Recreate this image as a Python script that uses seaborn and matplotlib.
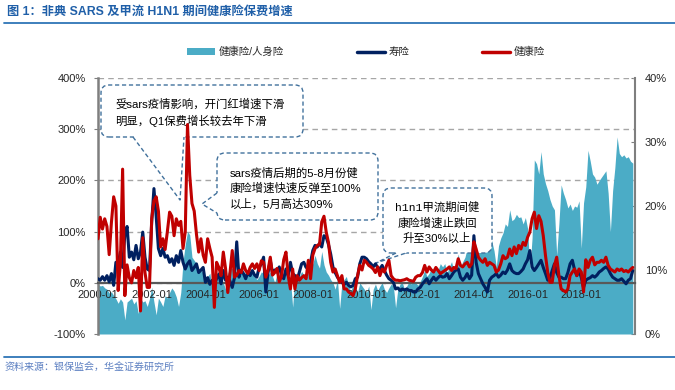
import numpy as np
import pandas as pd
import matplotlib.pyplot as plt
import seaborn as sns
from matplotlib.patches import FancyBboxPatch, Polygon, Patch
from matplotlib.lines import Line2D

# ---- data (monthly growth) ----
months = pd.date_range("2000-01-01", periods=240, freq="MS").strftime("%Y-%m").tolist()
tick_labels = ["2000-01", "2002-01", "2004-01", "2006-01", "2008-01",
               "2010-01", "2012-01", "2014-01", "2016-01", "2018-01"]

# 健康险 premium growth, %
health_growth = [
    86, 128, 105, 125, 110, 55, 118, 168, 150, -15, 37, 222,       # 2000
    -25, 35, 10, 0, 24, 10, 30, -55, 88, 20, -9, -9,               # 2001
    125, 160, 168, 140, 70, 86, 65, 100, 138, 130, 92, 125,        # 2002
    112, 120, 67, 100, 309, 210, 155, 140, 95, 60, 86, 54,         # 2003
    40, 86, 67, 50, -48, 40, 30, 14, 60, 28, -19, 20,              # 2004
    63, 11, 15, 24, 20, 37, 24, 18, 30, 37, 28, 37,                # 2005
    24, 43, 40, 11, 25, 50, 15, 20, 28, 2, 12, 45,                 # 2006
    60, 14, -12, 27, -12, 14, 5, 10, 14, 8, 44, 8,                 # 2007
    54, 67, 73, 75, 119, 130, 99, 79, 40, 21, 27, 14,              # 2008
    1, 14, -12, -12, -18, -21, -25, -12, 14, 34, 25, 44,           # 2009
    40, 34, 31, 27, 20, 31, 14, 27, 21, 34, 44, 14,                # 2010
    8, 5, 5, 4, 5, 6, 8, 5, 4, 3, 11, 14,                          # 2011
    14, 20, 34, 21, 31, 25, 21, 30, 24, 18, 21, 24,                # 2012
    27, 31, 24, 30, 28, 47, 34, 31, 37, 40, 31, 37,                # 2013
    80, 66, 50, 44, 40, 47, 34, 40, 37, 34, 21, 25,                # 2014
    37, 53, 47, 50, 66, 53, 70, 57, 73, 66, 79, 73,                # 2015
    89, 99, 125, 138, 106, 131, 120, 92, 53, 20, 1, 1,             # 2016
    34, 50, 14, -12, -15, -18, -12, 14, 21, 27, 14, 27,            # 2017
    21, -18, 45, 30, 44, 50, 35, 40, 40, 44, 40, 50,               # 2018
    34, 27, 24, 21, 27, 24, 27, 22, 24, 21, 26, 30,                # 2019
]

# 寿险 premium growth, %
life_growth = [
    8, 5, 12, 5, 14, 2, 18, -5, 40, 37, 60, 30,                    # 2000
    95, 110, 50, 60, 45, 73, 47, 60, 99, 50, 27, 24,               # 2001
    119, 184, 130, 67, 53, 67, 50, 53, 40, 47, 34, 53,             # 2002
    40, 63, 40, 27, 37, 43, 24, 30, 37, 20, 25, 30,                # 2003
    1, 10, -3, 5, -3, 8, 17, -2, 24, 5, 11, 3,                     # 2004
    -9, 10, 80, 11, 25, 18, 8, 20, 14, 24, 15, 11,                 # 2005
    30, 37, 50, -18, 20, 44, 18, 25, 21, 31, 15, 8,                # 2006
    27, 14, 40, 18, 14, 5, 21, 37, 40, 30, 31, 40,                 # 2007
    63, 73, 70, 77, 70, 92, 89, 75, 56, 31, 20, 11,                # 2008
    5, 1, -3, 1, -5, -8, -5, 8, 11, 37, 50, 50,                    # 2009
    47, 41, 37, 31, 37, 30, 27, 34, 24, 15, 8, 5,                  # 2010
    1, -12, -10, -15, -12, -14, -12, -15, -15, -18, -18, -12,      # 2011
    -9, -2, 3, 8, -2, 5, 11, 5, 10, 14, 11, 12,                    # 2012
    18, 8, 14, 21, 25, 27, 11, 5, 10, 18, 8, 15,                   # 2013
    92, 40, 18, 8, -2, -9, -18, 5, 11, 14, 18, 11,                 # 2014
    15, 21, 18, 25, 37, 24, 20, 18, 18, 22, 27, 37,                # 2015
    45, 63, 31, 24, 30, 37, 44, 30, 18, 5, 10, 24,                 # 2016
    37, 20, 11, 11, 8, 8, 20, 37, 44, 25, 14, 24,                  # 2017
    10, -9, 5, 8, 10, 14, 11, 15, 21, 24, 28, 31,                  # 2018
    27, 18, 11, 8, 5, 5, 8, 3, -2, 5, 8, 24,                       # 2019
]

# 健康险/人身险 share, % (right axis)
health_share = [
    7.8, 7.5, 7.6, 7.2, 7.0, 6.4, 6.6, 6.0, 5.5, 4.8, 5.5, 5.0,            # 2000
    2.2, 5.0, 5.3, 5.6, 4.7, 5.2, 3.2, 5.6, 5.0, 5.2, 4.3, 5.5,            # 2001
    7.3, 5.0, 3.0, 5.6, 5.0, 4.3, 6.0, 5.6, 6.5, 7.2, 6.7, 5.8,            # 2002
    4.3, 6.5, 11.3, 14.0, 16.0, 15.5, 12.0, 11.5, 11.0, 9.7, 10.0, 9.5,    # 2003
    8.7, 9.0, 9.5, 7.2, 5.6, 9.0, 10.0, 9.0, 8.0, 7.0, 9.5, 10.3,          # 2004
    10.3, 9.5, 9.8, 9.3, 10.0, 9.7, 9.5, 10.3, 10.0, 9.6, 9.0, 8.5,        # 2005
    9.0, 9.7, 9.5, 8.7, 9.2, 9.7, 9.0, 8.0, 9.5, 9.3, 9.0, 9.6,            # 2006
    9.7, 9.2, 8.5, 4.2, 9.0, 9.5, 9.0, 9.8, 9.2, 8.8, 9.7, 10.3,           # 2007
    11.0, 12.3, 11.0, 10.3, 12.9, 10.8, 9.7, 9.2, 8.5, 8.0, 7.0, 8.5,      # 2008
    4.0, 8.0, 8.5, 9.0, 7.5, 6.6, 8.0, 7.5, 6.5, 8.0, 7.5, 7.0,            # 2009
    6.5, 7.5, 3.8, 7.0, 7.8, 6.8, 7.5, 8.0, 7.0, 6.5, 7.2, 7.8,            # 2010
    7.5, 4.1, 7.0, 7.8, 8.0, 7.0, 7.5, 8.2, 7.8, 8.5, 8.0, 7.6,            # 2011
    8.2, 9.0, 10.0, 9.0, 9.5, 10.2, 9.8, 10.5, 10.0, 11.0, 10.5, 11.0,     # 2012
    9.5, 10.5, 11.3, 10.0, 11.0, 12.5, 10.5, 11.3, 12.0, 13.4, 14.5, 12.5, # 2013
    16.0, 15.0, 14.5, 13.0, 14.0, 16.0, 17.0, 15.5, 14.5, 13.0, 10.5, 13.8,  # 2014
    15.0, 15.8, 17.2, 16.8, 19.4, 17.7, 18.0, 18.7, 18.2, 18.3, 17.2, 18.2,  # 2015
    16.5, 10.0, 15.0, 27.2, 26.6, 25.0, 28.5, 25.0, 23.5, 22.4, 21.0, 20.0,  # 2016
    19.4, 12.3, 17.3, 23.3, 22.0, 21.0, 19.7, 20.3, 19.3, 20.0, 19.8, 20.8,  # 2017
    13.4, 20.5, 23.0, 28.7, 27.0, 25.0, 24.5, 23.4, 24.0, 24.5, 25.0, 25.5,  # 2018
    22.0, 16.0, 22.4, 26.0, 30.8, 28.2, 27.7, 28.0, 27.5, 27.7, 27.0, 26.7,  # 2019
]

AQUA = "#4BACC6"
NAVY = "#002060"
RED = "#C00000"
EDGE = "#41719C"

sns.set_style("white")
plt.rcParams["font.family"] = ["Liberation Sans", "Noto Sans CJK SC"]

idx = np.arange(len(months))

fig = plt.figure(figsize=(6.75, 3.9), dpi=100)
T = fig.dpi_scale_trans


def P(x, y):
    # pixel (from top-left) -> inches
    return (x / 100, (390 - y) / 100)


ax = fig.add_axes([98 / 675, 1 - 334 / 390, 537 / 675, 256 / 390])
ax2 = ax.twinx()
ax.set_zorder(ax2.get_zorder() + 1)
ax.patch.set_visible(False)

# area on right axis, gridlines behind it
for g in [0, 8, 16, 24, 32, 40]:
    ax2.axhline(g, color="#A6A6A6", lw=1.0, ls=(0, (4, 3)), zorder=1)
ax2.fill_between(idx, health_share, 0, color=AQUA, lw=0, zorder=2)
ax2.set_ylim(0, 40)
ax2.set_yticks([0, 10, 20, 30, 40])
ax2.set_yticklabels([f"{v}%" for v in [0, 10, 20, 30, 40]])
ax2.tick_params(axis="y", labelsize=8, length=3, direction="in", color="#7F7F7F", pad=7)
for s in ["left", "top", "bottom"]:
    ax2.spines[s].set_visible(False)
ax2.spines["right"].set_color("#7F7F7F")
ax2.spines["right"].set_linewidth(1.5)

# lines on left axis
sns.lineplot(x=idx, y=life_growth, ax=ax, color=NAVY, lw=2.2, zorder=3)
sns.lineplot(x=idx, y=health_growth, ax=ax, color=RED, lw=2.2, zorder=4)
ax.set_xlim(0, 240)
ax.set_ylim(-100, 400)
ax.set_yticks(range(-100, 401, 100))
ax.set_yticklabels([f"{v}%" for v in range(-100, 401, 100)])
ax.set_xticks([months.index(t) for t in tick_labels])
ax.set_xticklabels(tick_labels)
ax.set_xlabel("")
ax.set_ylabel("")
ax.tick_params(axis="x", labelsize=8, length=4, direction="inout", color="#595959", pad=3)
ax.tick_params(axis="y", labelsize=8, length=3, direction="out", color="#7F7F7F", pad=6)
ax.spines["top"].set_visible(False)
ax.spines["right"].set_visible(False)
ax.spines["left"].set_color("#7F7F7F")
ax.spines["left"].set_linewidth(1.8)
ax.spines["bottom"].set_position(("data", 0))
ax.spines["bottom"].set_color("#595959")
ax.spines["bottom"].set_linewidth(1.6)

# legend
handles = [Patch(facecolor=AQUA, edgecolor="none"),
           Line2D([], [], color=NAVY, lw=2.5),
           Line2D([], [], color=RED, lw=2.5)]
fig.legend(handles, ["健康险/人身险", "寿险", "健康险"], ncol=3, frameon=False,
           loc="center left", bbox_to_anchor=(187 / 675, 1 - 52 / 390),
           fontsize=7.5, handlelength=2.7, handleheight=0.6, handletextpad=0.35,
           columnspacing=7.0, borderpad=0, borderaxespad=0)

# title, rules, source
fig.text(*P(7, 12), "图 1：非典 SARS 及甲流 H1N1 期间健康险保费增速", transform=T,
         fontsize=8.8, fontweight="bold", color="#1F5FA8", va="center",
         family=["Liberation Sans", "Noto Sans CJK SC"])
fig.add_artist(Line2D([0.04, 6.75], [P(0, 22.5)[1]] * 2, transform=T, color="#2E75B6", lw=1.3))
fig.add_artist(Line2D([0.04, 6.75], [P(0, 357)[1]] * 2, transform=T, color="#2E75B6", lw=1.3))
fig.text(*P(5, 368), "资料来源：银保监会，华金证券研究所", transform=T,
         fontsize=7.2, color="#5B7FC1", va="center", style="italic")


def callout(box, wedge, lines, ys, xt, ha="left", fams=None):
    # boxes sit above the area but below the two lines
    x0, y0, x1, y1 = box
    ax.add_artist(FancyBboxPatch(P(x0, y1), (x1 - x0) / 100, (y1 - y0) / 100,
                                 boxstyle="round,pad=0,rounding_size=0.08", transform=T,
                                 fc="white", ec=EDGE, lw=1.0, ls=(0, (3, 2)), zorder=2.6,
                                 clip_on=False))
    b0, apex, b1 = wedge
    cx, cy = (x0 + x1) / 2, (y0 + y1) / 2
    inner = []
    for bx, by in (b1, b0):
        dx, dy = cx - bx, cy - by
        n = np.hypot(dx, dy)
        inner.append((bx + 3 * dx / n, by + 3 * dy / n))
    pts = [b0, apex, b1] + inner
    ax.add_artist(Polygon([P(*p) for p in pts], closed=True, transform=T,
                          fc="white", ec="none", zorder=2.65, clip_on=False))
    ax.add_artist(Line2D([P(*p)[0] for p in (b0, apex, b1)], [P(*p)[1] for p in (b0, apex, b1)],
                         transform=T, color=EDGE, lw=1.0, ls=(0, (3, 2)), zorder=2.7,
                         clip_on=False))
    for k, (txt, y) in enumerate(zip(lines, ys)):
        fam = fams[k] if fams else ["Liberation Sans", "Noto Sans CJK SC"]
        ax.text(*P(xt, y), txt, transform=T, fontsize=8.2, ha=ha, va="center",
                color="black", zorder=2.8, family=fam, clip_on=False)


callout((101, 85, 303, 137), ((133, 137), (180, 200), (184, 137)),
        ["受sars疫情影响，开门红增速下滑", "明显，Q1保费增长较去年下滑"], [104, 121], 115)
callout((217, 153, 378, 220), ((217, 193), (202, 204), (217, 213)),
        ["sars疫情后期的5-8月份健", "康险增速快速反弹至100%", "以上，5月高达309%"],
        [173, 188, 204], 230)
callout((383, 188, 492, 253), ((396, 253), (376, 263), (406, 253)),
        ["h1n1甲流期间健", "康险增速止跌回", "升至30%以上"], [207, 223, 238], 437, ha="center",
        fams=[["Liberation Mono", "Noto Sans CJK SC"],
              ["Liberation Sans", "Noto Sans CJK SC"],
              ["Liberation Sans", "Noto Sans CJK SC"]])

fig.savefig("out.png", dpi=100)
